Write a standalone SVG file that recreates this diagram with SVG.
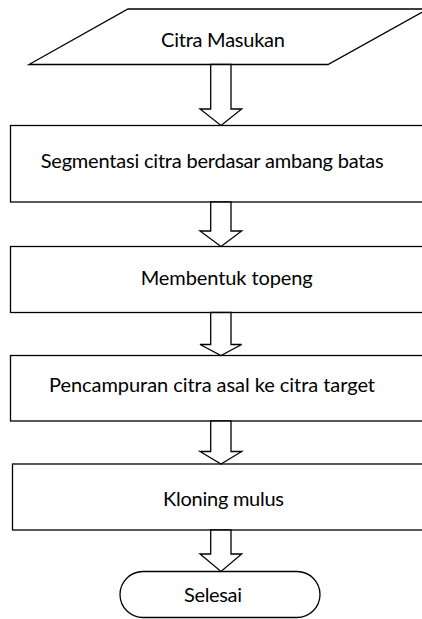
<svg xmlns="http://www.w3.org/2000/svg" width="422" height="619" viewBox="0 0 422 619">
<style>
.n{fill:#fff;stroke:#000;stroke-width:1.3}
.a{fill:#fff;stroke:#000;stroke-width:1.3;stroke-linejoin:miter}
text{font-family:Lato,"Open Sans","Liberation Sans",sans-serif;font-size:20px;fill:#000}
</style>
<rect width="422" height="619" fill="#fff"/>
<g id="n1"><polygon class="n" points="128,9 428,9 328,64.5 29,64.5"/><text x="161" y="46.5" textLength="124">Citra Masukan</text></g>
<g id="n2"><rect class="n" x="10.5" y="125.5" width="420" height="76.5"/><text x="40.7" y="167.5" textLength="343">Segmentasi citra berdasar ambang batas</text></g>
<g id="n3"><rect class="n" x="10.5" y="246.5" width="420" height="66"/><text x="140.7" y="285" textLength="172">Membentuk topeng</text></g>
<g id="n4"><rect class="n" x="10.5" y="355.5" width="420" height="65.5"/><text x="49" y="391.5" textLength="326">Pencampuran citra asal ke citra target</text></g>
<g id="n5"><rect class="n" x="12.5" y="464" width="418" height="66"/><text x="163" y="506" textLength="121">Kloning mulus</text></g>
<g id="n6"><rect class="n" x="120" y="571.5" width="200" height="46" rx="23" ry="23"/><text x="184" y="601.5" textLength="58">Selesai</text></g>
<g id="connectors">
<polygon class="a" points="210.7,64.5 231,64.5 231,109 241.7,109 221,125.5 200,109 210.7,109"/>
<polygon class="a" points="210.7,202 231,202 231,231 241.7,231 221,246.5 200,231 210.7,231"/>
<polygon class="a" points="210.7,312.5 231,312.5 231,344.5 241.7,344.5 221,355.5 200,344.5 210.7,344.5"/>
<polygon class="a" points="210.7,421 231,421 231,451.5 241.7,451.5 221,464 200,451.5 210.7,451.5"/>
<polygon class="a" points="210.7,530 231,530 231,554 241.7,554 221,571.5 200,554 210.7,554"/>
</g>
</svg>
